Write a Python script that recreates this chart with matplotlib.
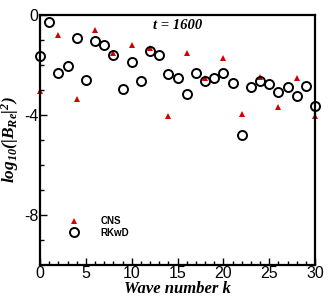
import numpy as np
import matplotlib
matplotlib.use("Agg")
import matplotlib.pyplot as plt
from matplotlib.ticker import MultipleLocator

plt.rcParams['mathtext.fontset'] = 'custom'
plt.rcParams['mathtext.rm'] = 'Liberation Serif:bold:italic'
plt.rcParams['mathtext.it'] = 'Liberation Serif:bold:italic'
plt.rcParams['mathtext.bf'] = 'Liberation Serif:bold:italic'
plt.rcParams['axes.unicode_minus'] = False

k_rkwd = np.arange(0, 31)
rkwd = [-1.64, -0.28, -2.31, -2.05, -0.91, -2.60, -1.05, -1.20, -1.61, -2.95,
        -1.88, -2.64, -1.45, -1.61, -2.35, -2.52, -3.15, -2.31, -2.64, -2.51,
        -2.31, -2.71, -4.80, -2.87, -2.64, -2.77, -3.08, -2.87, -3.24, -2.84,
        -3.64]
k_cns = np.arange(0, 31, 2)
cns = [-3.03, -0.79, -3.37, -0.59, -1.51, -1.19, -1.32, -4.04, -1.53, -2.51,
       -1.73, -3.95, -2.48, -3.68, -2.52, -4.03]

fig = plt.figure(figsize=(3.32, 2.96), dpi=100)
ax = fig.add_axes([40/332, 1-265/296, 275/332, 250/296])

ax.plot(k_cns, cns, linestyle='none', marker='^', color='#d40000',
        markersize=5, markeredgewidth=0, label='CNS', clip_on=False, zorder=2)
ax.plot(k_rkwd, rkwd, linestyle='none', marker='o', markerfacecolor='none',
        markeredgecolor='black', markersize=6.5, markeredgewidth=1.4,
        label='RKwD', clip_on=False, zorder=3)

ax.set_xlim(0, 30)
ax.set_ylim(-10, 0)
ax.xaxis.set_major_locator(MultipleLocator(5))
ax.xaxis.set_minor_locator(MultipleLocator(1))
ax.yaxis.set_major_locator(MultipleLocator(4))
ax.yaxis.set_minor_locator(MultipleLocator(1))
ax.tick_params(which='both', direction='in', top=False, right=False,
               width=1)
ax.tick_params(which='major', length=5, labelsize=11.5, pad=1)
ax.tick_params(which='minor', length=3)
for lab in ax.get_xticklabels() + ax.get_yticklabels():
    lab.set_family('Liberation Sans')
for s in ax.spines.values():
    s.set_linewidth(1.6)

serif = dict(family='Liberation Serif', weight='bold', style='italic')
ax.set_xlabel('Wave number k', fontsize=12, labelpad=0, **serif)
ax.yaxis.set_label_coords(-0.068, 0.53)
ax.set_ylabel(r'$log_{10}(|B_{Re}|^2)$', fontsize=12.5)
ax.text(0.5, 0.985, 't = 1600', transform=ax.transAxes, ha='center',
        va='top', fontsize=10.5, **serif)

leg = ax.legend(loc='lower left', bbox_to_anchor=(0.065, 0.075), frameon=False,
                prop=dict(family='Liberation Sans', weight='bold', size=7),
                handletextpad=2.0, labelspacing=0.15, handlelength=1.5)

fig.savefig('out.png', dpi=100)
